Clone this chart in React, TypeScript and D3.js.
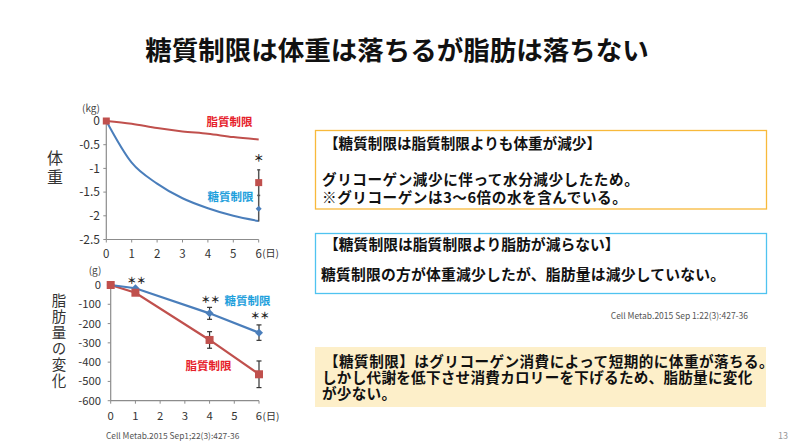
import React from "react";
import * as d3 from "d3";

const title = "糖質制限は体重は落ちるが脂肪は落ちない";
const days = [0, 1, 2, 3, 4, 5, 6];
const weightTicks = [0, -0.5, -1, -1.5, -2, -2.5];
const weightTickLabels = ["0", "-0.5", "-1", "-1.5", "-2", "-2.5"];
const weightLowFat = [0, -0.06, -0.15, -0.22, -0.27, -0.34, -0.39];
const weightLowCarb = [0, -0.88, -1.32, -1.63, -1.84, -2.0, -2.11];
const weightEndLowFat = { day: 6, value: -1.3, err: 0.27 };
const weightEndLowCarb = { day: 6, value: -1.85, err: 0.27 };

const fatDays = [0, 1, 4, 6];
const fatLowCarb = [0, -17, -147, -247];
const fatLowCarbErr = [0, 0, 31, 40];
const fatLowFat = [0, -40, -285, -463];
const fatLowFatErr = [0, 0, 43, 69];
const fatTicks = [0, -100, -200, -300, -400, -500, -600];
const fatStarDays = [1, 4, 6];
const fatStarValues = [7, -93, -174];

const weightLabel = "体重";
const fatLabel = "脂肪量の変化";
const box1Lines = ["【糖質制限は脂質制限よりも体重が減少】", "", "グリコーゲン減少に伴って水分減少したため。", "※グリコーゲンは3～6倍の水を含んでいる。"];
const box2Lines = ["【糖質制限は脂質制限より脂肪が減らない】", "糖質制限の方が体重減少したが、脂肪量は減少していない。"];
const box3Lines = ["【糖質制限】はグリコーゲン消費によって短期的に体重が落ちる。", "しかし代謝を低下させ消費カロリーを下げるため、脂肪量に変化", "が少ない。"];

const FONT = "'Noto Sans CJK JP', 'Noto Sans', sans-serif";
const RED_LINE = "#c0504d";
const BLUE_LINE = "#4a7ebb";
const RED_TXT = "#e6212a";
const BLUE_TXT = "#1ea0dc";
const AXIS = "#8c8c8c";

export default function App() {
  // top chart
  const x1 = d3.scaleLinear().domain([0, 6]).range([106.3, 258.7]);
  const y1 = d3.scaleLinear().domain([-2.5, 0]).range([239.5, 121]);
  const line1 = d3.line<[number, number]>().x(d => x1(d[0])).y(d => y1(d[1])).curve(d3.curveMonotoneX);
  const lf1 = line1(days.map((d, i) => [d, weightLowFat[i]]) as [number, number][]) || "";
  const lc1 = line1(days.map((d, i) => [d, weightLowCarb[i]]) as [number, number][]) || "";

  // bottom chart
  const x2 = d3.scaleLinear().domain([0, 6]).range([110.7, 259]);
  const y2 = d3.scaleLinear().domain([-600, 0]).range([400.7, 285]);
  const line2 = d3.line<[number, number]>().x(d => x2(d[0])).y(d => y2(d[1]));
  const lf2 = line2(fatDays.map((d, i) => [d, fatLowFat[i]]) as [number, number][]) || "";
  const lc2 = line2(fatDays.map((d, i) => [d, fatLowCarb[i]]) as [number, number][]) || "";

  const diamond = (cx: number, cy: number, r: number) =>
    `M${cx},${cy - r}L${cx + r},${cy}L${cx},${cy + r}L${cx - r},${cy}Z`;

  const errBar = (x: number, yTop: number, yBot: number, key: string) => (
    <g key={key} stroke="#333" strokeWidth={1.2}>
      <line x1={x} x2={x} y1={yTop} y2={yBot} />
      <line x1={x - 2.5} x2={x + 2.5} y1={yTop} y2={yTop} />
      <line x1={x - 2.5} x2={x + 2.5} y1={yBot} y2={yBot} />
    </g>
  );

  return (
    <svg width={796} height={442} style={{ position: "absolute", left: 0, top: 0, background: "#fff" }} fontFamily={FONT}>
      <rect x={0} y={0} width={796} height={442} fill="#fff" />
      <text x={397} y={59.5} textAnchor="middle" fontSize={26.5} fontWeight={700} fill="#111">{title}</text>

      {/* ---------- top chart ---------- */}
      <text x={91} y={112} textAnchor="middle" fontSize={10} fill="#444">(kg)</text>
      {weightTicks.map((t, i) => (
        <g key={"wt" + i}>
          <text x={100} y={y1(t) + 4.2} textAnchor="end" fontSize={12} fill="#333">{weightTickLabels[i]}</text>
          <line x1={x1(0) - 3} x2={x1(0)} y1={y1(t)} y2={y1(t)} stroke={AXIS} />
        </g>
      ))}
      <line x1={x1(0)} x2={x1(0)} y1={y1(0)} y2={y1(-2.5)} stroke={AXIS} strokeWidth={1.2} />
      <line x1={x1(0)} x2={x1(6)} y1={y1(-2.5)} y2={y1(-2.5)} stroke={AXIS} strokeWidth={1.2} />
      {days.map(d => (
        <g key={"wx" + d}>
          <line x1={x1(d)} x2={x1(d)} y1={y1(-2.5)} y2={y1(-2.5) + 3} stroke={AXIS} />
          <text x={x1(d)} y={257.5} textAnchor="middle" fontSize={11.5} fill="#333">{String(d)}</text>
        </g>
      ))}
      <text x={x1(6) + 3.5} y={257} fontSize={10} fill="#333">(日)</text>
      <path d={lf1} fill="none" stroke={RED_LINE} strokeWidth={2} />
      <path d={lc1} fill="none" stroke={BLUE_LINE} strokeWidth={2} />
      <rect x={x1(0) - 3.5} y={y1(0) - 3.5} width={7} height={7} fill={RED_LINE} />
      <line x1={x1(6)} x2={x1(6)} y1={y1(weightEndLowFat.value + weightEndLowFat.err)} y2={y1(weightEndLowCarb.value - weightEndLowCarb.err)} stroke="#555" strokeWidth={1.5} />
      <line x1={x1(6) - 1.5} x2={x1(6) + 1.5} y1={y1(weightEndLowFat.value - weightEndLowFat.err)} y2={y1(weightEndLowFat.value - weightEndLowFat.err)} stroke="#555" strokeWidth={1.5} />
      <line x1={x1(6) - 1.5} x2={x1(6) + 1.5} y1={y1(weightEndLowFat.value + weightEndLowFat.err)} y2={y1(weightEndLowFat.value + weightEndLowFat.err)} stroke="#555" strokeWidth={1.5} />
      <rect x={x1(6) - 3.5} y={y1(weightEndLowFat.value) - 3.5} width={7} height={7} fill={RED_LINE} />
      <path d={diamond(x1(6), y1(weightEndLowCarb.value), 3)} fill={BLUE_LINE} />
      <text x={x1(6)} y={y1(-0.87)} textAnchor="middle" fontSize={10} fontWeight={700} fill="#222">＊</text>
      <text x={206.5} y={126} fontSize={11.5} fontWeight={700} fill={RED_TXT}>脂質制限</text>
      <text x={207.5} y={201} fontSize={11.5} fontWeight={700} fill={BLUE_TXT}>糖質制限</text>
      <text x={55} y={150} fontSize={16} letterSpacing={3} fill="#333" style={{ writingMode: "vertical-rl" }}>{weightLabel}</text>

      {/* ---------- bottom chart ---------- */}
      <text x={95} y={273.5} textAnchor="middle" fontSize={10} fill="#444">(g)</text>
      {fatTicks.map(t => (
        <g key={"ft" + t}>
          <text x={101} y={y2(t) + 4} textAnchor="end" fontSize={11.3} fill="#333">{String(t)}</text>
          <line x1={x2(0) - 3} x2={x2(0)} y1={y2(t)} y2={y2(t)} stroke={AXIS} />
        </g>
      ))}
      <line x1={x2(0)} x2={x2(0)} y1={y2(0)} y2={y2(-600)} stroke={AXIS} strokeWidth={1.2} />
      <line x1={x2(0)} x2={x2(6)} y1={y2(-600)} y2={y2(-600)} stroke={AXIS} strokeWidth={1.2} />
      {days.map(d => (
        <g key={"fx" + d}>
          <line x1={x2(d)} x2={x2(d)} y1={y2(-600)} y2={y2(-600) + 3} stroke={AXIS} />
          <text x={x2(d)} y={420} textAnchor="middle" fontSize={11.3} fill="#333">{String(d)}</text>
        </g>
      ))}
      <text x={x2(6) + 3.5} y={420} fontSize={10} fill="#333">(日)</text>
      {fatDays.map((d, i) => fatLowCarbErr[i] > 0 ? errBar(x2(d), y2(fatLowCarb[i] + fatLowCarbErr[i]), y2(fatLowCarb[i] - fatLowCarbErr[i]), "ec" + i) : null)}
      {fatDays.map((d, i) => fatLowFatErr[i] > 0 ? errBar(x2(d), y2(fatLowFat[i] + fatLowFatErr[i]), y2(fatLowFat[i] - fatLowFatErr[i]), "ef" + i) : null)}
      <path d={lf2} fill="none" stroke={RED_LINE} strokeWidth={2.2} />
      <path d={lc2} fill="none" stroke={BLUE_LINE} strokeWidth={2.2} />
      {fatDays.map((d, i) => (
        <path key={"dc" + i} d={diamond(x2(d), y2(fatLowCarb[i]), 4)} fill={BLUE_LINE} />
      ))}
      {fatDays.map((d, i) => (
        <rect key={"sf" + i} x={x2(d) - 4} y={y2(fatLowFat[i]) - 4} width={8} height={8} fill={RED_LINE} />
      ))}
      {fatStarDays.map((d, i) => (
        <text key={"st" + i} x={x2(d) + 1} y={y2(fatStarValues[i])} textAnchor="middle" fontSize={9.5} fontWeight={700} fill="#222">＊＊</text>
      ))}
      <text x={224.5} y={304.5} fontSize={11.5} fontWeight={700} fill={BLUE_TXT}>糖質制限</text>
      <text x={185.5} y={370} fontSize={11.5} fontWeight={700} fill={RED_TXT}>脂質制限</text>
      <text x={59} y={293} fontSize={14.5} letterSpacing={1.5} fill="#333" style={{ writingMode: "vertical-rl" }}>{fatLabel}</text>
      <text x={106} y={438.5} fontSize={8.4} fill="#555">Cell Metab.2015 Sep1;22(3):427-36</text>

      {/* ---------- boxes ---------- */}
      <rect x={315.5} y={130.5} width={451} height={78.5} fill="#fff" stroke="#f8b93b" strokeWidth={1.3} />
      {box1Lines.map((l, i) => (
        <text key={"b1" + i} x={i === 0 ? 324 : 322} y={148.5 + i * 18.2} fontSize={14.6} fontWeight={700} letterSpacing={i === 0 ? 0 : 0.55} fill="#111">{l}</text>
      ))}
      <rect x={315.5} y={233.5} width={451} height={60} fill="#fff" stroke="#4fc3f0" strokeWidth={1.3} />
      {box2Lines.map((l, i) => (
        <text key={"b2" + i} x={i === 0 ? 324 : 321} y={250 + i * 30} fontSize={14.8} fontWeight={700} letterSpacing={i === 0 ? 0 : 0.2} fill="#111">{l}</text>
      ))}
      <text x={748} y={319} textAnchor="end" fontSize={8.5} fill="#555">Cell Metab.2015 Sep 1:22(3):427-36</text>
      <rect x={315} y={347} width={451} height={60} fill="#fdefc9" />
      {box3Lines.map((l, i) => (
        <text key={"b3" + i} x={i === 0 ? 324 : 322} y={367 + i * 16} fontSize={14.6} fontWeight={700} letterSpacing={i === 0 ? 0.45 : 0.25} fill="#111">{l}</text>
      ))}
      <text x={783} y={439} textAnchor="middle" fontSize={9} fill="#999">13</text>
    </svg>
  );
}
